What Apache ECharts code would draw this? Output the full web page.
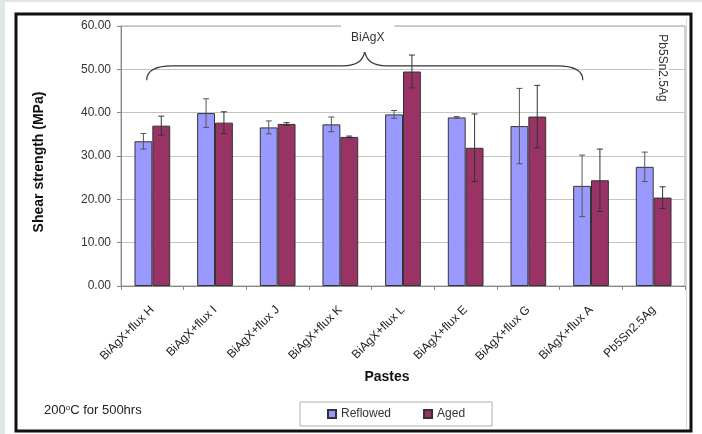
<!DOCTYPE html>
<html>
<head>
<meta charset="utf-8">
<script src="https://cdn.jsdelivr.net/npm/echarts@6/dist/echarts.min.js"></script>
<style>
  html, body { margin: 0; padding: 0; background: #e0e7e4; }
  #chart { width: 702px; height: 434px; }
</style>
</head>
<body>
<div id="chart"></div>
<script>
// Shear strength of solder pastes, reflowed vs. aged (200°C, 500 h)
const categories = ['BiAgX+flux H', 'BiAgX+flux I', 'BiAgX+flux J', 'BiAgX+flux K',
  'BiAgX+flux L', 'BiAgX+flux E', 'BiAgX+flux G', 'BiAgX+flux A', 'Pb5Sn2.5Ag'];
const reflowed    = [33.4, 39.9, 36.6, 37.3, 39.6, 38.9, 36.9, 23.1, 27.5];
const reflowedErr = [1.8, 3.3, 1.5, 1.7, 0.9, 0.2, 8.7, 7.1, 3.4];
const aged        = [37.0, 37.7, 37.4, 34.4, 49.5, 31.9, 39.1, 24.4, 20.4];
const agedErr     = [2.2, 2.5, 0.3, 0.2, 3.8, 7.8, 7.2, 7.2, 2.5];
const yTicks = { min: 0, max: 60, interval: 10 };

const FONT = '"Liberation Sans", Arial, sans-serif';
const CAT_GAP = 0.43;   // share of each category left empty

const chart = echarts.init(document.getElementById('chart'), null, { renderer: 'canvas' });

// Error whiskers, side = -1 for the left bar of a pair, +1 for the right one
function errorSeries(name, values, errs, side, color) {
  return {
    name: name,
    type: 'custom',
    z: 5,
    silent: true,
    data: values.map((v, i) => [i, v, errs[i]]),
    renderItem: function (params, api) {
      const i = api.value(0), v = api.value(1), e = api.value(2);
      const band = api.size([1, 0])[0];
      const bw = band * (1 - CAT_GAP) / 2;
      const top = api.coord([i, v + e]);
      const bot = api.coord([i, v - e]);
      const x = top[0] + side * bw / 2;
      const cap = 3;
      return {
        type: 'group',
        children: [
          { type: 'line', shape: { x1: x, y1: top[1], x2: x, y2: bot[1] }, style: { stroke: color, lineWidth: 1 } },
          { type: 'line', shape: { x1: x - cap, y1: top[1], x2: x + cap, y2: top[1] }, style: { stroke: color, lineWidth: 1 } },
          { type: 'line', shape: { x1: x - cap, y1: bot[1], x2: x + cap, y2: bot[1] }, style: { stroke: color, lineWidth: 1 } }
        ]
      };
    }
  };
}

const option = {
  animation: false,
  textStyle: { fontFamily: FONT },
  grid: { left: 121, right: 17, top: 26, bottom: 148, show: true, borderColor: '#a0a0a0', borderWidth: 1, backgroundColor: '#fff' },
  legend: {
    data: ['Reflowed', 'Aged'],
    left: 300, top: 402,
    icon: 'rect', itemWidth: 8, itemHeight: 8, itemGap: 32,
    padding: [6, 27, 6, 27],
    backgroundColor: '#fff', borderColor: '#b0b0b0', borderWidth: 1,
    textStyle: { fontSize: 12, color: '#333', fontFamily: FONT }
  },
  xAxis: {
    type: 'category',
    data: categories,
    axisLine: { lineStyle: { color: '#888' } },
    axisTick: { show: true, length: 4, lineStyle: { color: '#888' } },
    axisLabel: { rotate: 45, fontSize: 12, color: '#222', margin: 22, interval: 0 },
    splitLine: { show: false }
  },
  yAxis: {
    type: 'value',
    min: yTicks.min, max: yTicks.max, interval: yTicks.interval,
    axisLine: { show: true, lineStyle: { color: '#888' } },
    axisTick: { show: true, length: 4, lineStyle: { color: '#888' } },
    axisLabel: { fontSize: 12, color: '#333', margin: 10, formatter: v => v.toFixed(2) },
    splitLine: { lineStyle: { color: '#c4c4c4' } }
  },
  series: [
    {
      name: 'Reflowed', type: 'bar', data: reflowed,
      barGap: '0%', barCategoryGap: (CAT_GAP * 100) + '%',
      itemStyle: { color: '#9999ff', borderColor: '#333', borderWidth: 1 }
    },
    {
      name: 'Aged', type: 'bar', data: aged,
      barGap: '0%', barCategoryGap: (CAT_GAP * 100) + '%',
      itemStyle: { color: '#993366', borderColor: '#333', borderWidth: 1 }
    },
    errorSeries('ReflowedErr', reflowed, reflowedErr, -1, '#555'),
    errorSeries('AgedErr', aged, agedErr, 1, '#333')
  ]
};
chart.setOption(option);

// Frame, titles and the bracket over the BiAgX group
const toPx = (c, v) => chart.convertToPixel({ gridIndex: 0 }, [c, v]);
const band = toPx(7, 0)[0] - toPx(6, 0)[0];
const yT = toPx(0, 47.5)[1];
const yH = toPx(0, 50.8)[1];
const yP = toPx(0, 54.2)[1];
const x0 = toPx(0, 0)[0] - 0.09 * band;
const x1 = toPx(7, 0)[0] - 0.13 * band;
const xm = (x0 + x1) / 2;
const braceStyle = { fill: null, stroke: '#333', lineWidth: 1.1 };
const curve = (ax, ay, cx, cy, bx, by) => ({
  type: 'bezierCurve', z: 6, silent: true,
  shape: { x1: ax, y1: ay, cpx1: cx, cpy1: cy, x2: bx, y2: by }, style: braceStyle
});
const seg = (ax, ay, bx, by) => ({
  type: 'line', z: 6, silent: true,
  shape: { x1: ax, y1: ay, x2: bx, y2: by }, style: braceStyle
});
const brace = [
  curve(x0, yT, x0, yH, x0 + 26, yH),
  seg(x0 + 26, yH, xm - 22, yH),
  curve(xm - 22, yH, xm - 2, yH, xm, yP),
  curve(xm, yP, xm + 2, yH, xm + 22, yH),
  seg(xm + 22, yH, x1 - 26, yH),
  curve(x1 - 26, yH, x1, yH, x1, yT)
];

chart.setOption({
  graphic: [
    { type: 'rect', z: -10, silent: true, shape: { x: 5, y: 2, width: 697, height: 432 }, style: { fill: '#fff' } },
    { type: 'rect', z: 10, silent: true, shape: { x: 16, y: 14, width: 675, height: 417 }, style: { fill: null, stroke: '#111', lineWidth: 3 } },
    { type: 'line', z: 10, silent: true, shape: { x1: 686.5, y1: 18, x2: 686.5, y2: 429 }, style: { stroke: '#d8d8d8', lineWidth: 1 } }
  ].concat(brace).concat([
    { type: 'text', z: 7, silent: true, x: xm + 3, y: 38,
      style: { text: 'BiAgX', font: '12px ' + FONT, fill: '#333', align: 'center', verticalAlign: 'middle',
               backgroundColor: '#fff', padding: [8, 10, 8, 10] } },
    { type: 'text', z: 7, silent: true, x: 662, y: 68, rotation: -Math.PI / 2,
      style: { text: 'Pb5Sn2.5Ag', font: '12px ' + FONT, fill: '#333', align: 'center', verticalAlign: 'middle',
               backgroundColor: '#fff', padding: [1, 2, 1, 2] } },
    { type: 'text', z: 7, silent: true, x: 39, y: 162, rotation: Math.PI / 2,
      style: { text: 'Shear strength (MPa)', font: 'bold 14px ' + FONT, fill: '#111', align: 'center', verticalAlign: 'middle' } },
    { type: 'text', z: 7, silent: true, x: 387, y: 377,
      style: { text: 'Pastes', font: 'bold 14px ' + FONT, fill: '#111', align: 'center', verticalAlign: 'middle' } },
    { type: 'text', z: 7, silent: true, x: 44, y: 410,
      style: { text: '200{sup|o}C for 500hrs', font: '13px ' + FONT, fill: '#222', align: 'left', verticalAlign: 'middle',
               rich: { sup: { fontSize: 8, fill: '#222', verticalAlign: 'top', padding: [0, 0, 5, 0] } } } }
  ])
});
</script>
</body>
</html>
